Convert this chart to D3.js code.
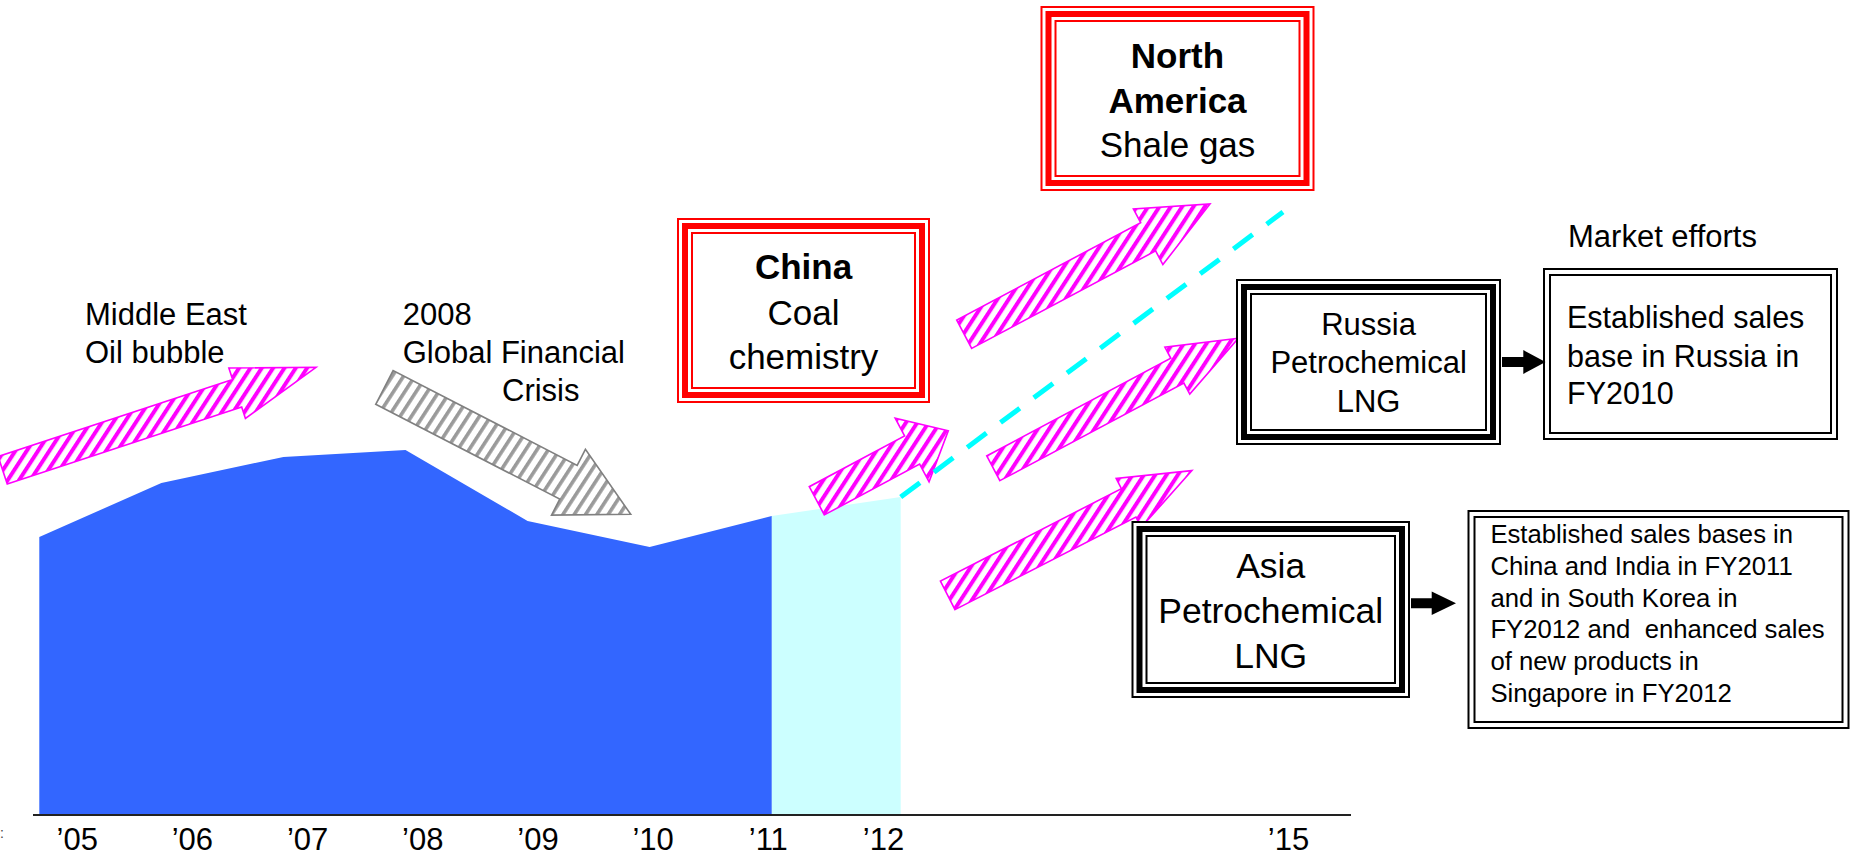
<!DOCTYPE html>
<html>
<head>
<meta charset="utf-8">
<script src="https://cdn.jsdelivr.net/npm/d3@7"></script>
<style>
  html, body { margin: 0; padding: 0; background: #ffffff; }
  svg { display: block; font-family: "Liberation Sans", Arial, sans-serif; }
  text { white-space: pre; }
</style>
</head>
<body>
<svg id="chart" width="1854" height="858"></svg>
<script>
// ---- data ----------------------------------------------------------------
// Sales index (arbitrary units) by fiscal year
const actualYears  = [2005, 2006, 2007, 2008, 2009, 2010, 2011];
const actualValues = [278, 332, 358, 365, 294, 268, 299];
const planYears    = [2011, 2012];
const planValues   = [299, 318];
const trendYears   = [2012, 2015];
const trendValues  = [318, 603];

const tickYears  = [2005, 2006, 2007, 2008, 2009, 2010, 2011, 2012, 2015];
const tickLabels = ["\u201905", "\u201906", "\u201907", "\u201908", "\u201909", "\u201910", "\u201911", "\u201912", "\u201915"];

// ---- layout ----------------------------------------------------------------
const baseY = 815;

const svg = d3.select("#chart");
const defs = svg.append("defs");

// position of area vertices (fiscal periods) and of year labels
const xArea = d3.scaleLinear()
  .domain([2005, 2011, 2012, 2015])
  .range([39.3, 771.7, 900.7, 1283]);
const xTick = d3.scaleLinear()
  .domain([2005, 2012, 2015])
  .range([76.7, 883, 1288]);
const y = d3.scaleLinear().domain([0, 400]).range([baseY, baseY - 400]);

// hatch fills for the block arrows
function hatch(id, color, period, stripe) {
  const p = defs.append("pattern")
    .attr("id", id)
    .attr("patternUnits", "userSpaceOnUse")
    .attr("width", period).attr("height", period)
    .attr("patternTransform", "rotate(33)");
  p.append("rect").attr("width", period).attr("height", period).attr("fill", "#ffffff");
  p.append("rect").attr("width", stripe).attr("height", period).attr("fill", color);
}
hatch("hatchMagenta", "#ff00ff", 9.5, 4);
hatch("hatchGray", "#9a9a9a", 9.5, 3.6);

// ---- sales area ----------------------------------------------------------------
const actual = actualYears.map((yr, i) => ({ year: yr, value: actualValues[i] }));
const plan   = planYears.map((yr, i) => ({ year: yr, value: planValues[i] }));
const trend  = trendYears.map((yr, i) => ({ year: yr, value: trendValues[i] }));

const area = d3.area()
  .x(d => xArea(d.year))
  .y0(y(0))
  .y1(d => y(d.value));

svg.append("path").datum(plan)
  .attr("d", area)
  .attr("fill", "#ccffff");

svg.append("path").datum(actual)
  .attr("d", area)
  .attr("fill", "#3366ff");

// baseline
svg.append("line")
  .attr("x1", 33).attr("x2", 1351)
  .attr("y1", baseY).attr("y2", baseY)
  .attr("stroke", "#222").attr("stroke-width", 2.2);

// year labels
const axis = d3.axisBottom(xTick)
  .tickValues(tickYears)
  .tickFormat((d, i) => tickLabels[i])
  .tickSize(0)
  .tickPadding(0);
const axisG = svg.append("g")
  .attr("transform", `translate(0,${baseY})`)
  .call(axis);
axisG.select(".domain").remove();
axisG.selectAll("text")
  .attr("font-family", "'Liberation Sans', Arial, sans-serif")
  .attr("font-size", 31)
  .attr("fill", "#000")
  .attr("dy", null)
  .attr("y", 35);

// stray mark at the left edge
svg.append("text").attr("x", 0).attr("y", 838)
  .attr("font-size", 14).attr("fill", "#444").text(":");

// ---- block arrows ----------------------------------------------------------------
function blockArrow(a) {
  const dx = a.tip[0] - a.tail[0], dy = a.tip[1] - a.tail[1];
  const len = Math.hypot(dx, dy);
  const ux = dx / len, uy = dy / len;
  const nx = -uy, ny = ux;
  const bx = a.tip[0] - ux * a.headLen, by = a.tip[1] - uy * a.headLen;
  const s = a.shaft / 2, h = a.head / 2;
  const pts = [
    [a.tail[0] + nx * s, a.tail[1] + ny * s],
    [bx + nx * s, by + ny * s],
    [bx + nx * h, by + ny * h],
    a.tip,
    [bx - nx * h, by - ny * h],
    [bx - nx * s, by - ny * s],
    [a.tail[0] - nx * s, a.tail[1] - ny * s]
  ];
  return d3.line()(pts) + "Z";
}

const arrowShapes = [
  { tail: [2.7, 470.3],   tip: [316, 367.3],    shaft: 29, head: 53, headLen: 83, kind: "up" },
  { tail: [384.4, 387.4], tip: [630.7, 514.3],  shaft: 38, head: 74, headLen: 70, kind: "down" },
  { tail: [816.8, 500.8], tip: [948.3, 430.7],  shaft: 32, head: 72, headLen: 41, kind: "up" },
  { tail: [964.2, 334.2], tip: [1210, 204],     shaft: 32, head: 63, headLen: 70, kind: "up" },
  { tail: [993.3, 468.3], tip: [1238.3, 338.3], shaft: 28, head: 53, headLen: 69, kind: "up" },
  { tail: [947.7, 595.4], tip: [1191.9, 470.6], shaft: 32, head: 55, headLen: 71, kind: "up" }
];

svg.append("g").selectAll("path")
  .data(arrowShapes)
  .join("path")
  .attr("d", blockArrow)
  .attr("fill", d => d.kind === "up" ? "url(#hatchMagenta)" : "url(#hatchGray)")
  .attr("stroke", d => d.kind === "up" ? "#ff00ff" : "#808080")
  .attr("stroke-width", 1.6)
  .attr("stroke-linejoin", "miter");

// growth trend beyond the plan year
svg.append("path").datum(trend)
  .attr("d", d3.line().x(d => xArea(d.year)).y(d => y(d.value)))
  .attr("fill", "none")
  .attr("stroke", "#00ffff")
  .attr("stroke-width", 5)
  .attr("stroke-dasharray", "24 17.5");

// ---- framed boxes ----------------------------------------------------------------
// triple frame: thin / thick / thin
function tripleBox(x, y0, w, h, color) {
  const g = svg.append("g");
  g.append("rect").attr("x", x).attr("y", y0).attr("width", w).attr("height", h).attr("fill", "#fff");
  [[1, 2], [8, 6], [15, 2]].forEach(([inset, sw]) => {
    g.append("rect")
      .attr("x", x + inset).attr("y", y0 + inset)
      .attr("width", w - 2 * inset).attr("height", h - 2 * inset)
      .attr("fill", "none").attr("stroke", color).attr("stroke-width", sw);
  });
  return g;
}
// double frame: thin / thin
function doubleBox(x, y0, w, h) {
  const g = svg.append("g");
  g.append("rect").attr("x", x).attr("y", y0).attr("width", w).attr("height", h).attr("fill", "#fff");
  [[1, 2], [7, 2]].forEach(([inset, sw]) => {
    g.append("rect")
      .attr("x", x + inset).attr("y", y0 + inset)
      .attr("width", w - 2 * inset).attr("height", h - 2 * inset)
      .attr("fill", "none").attr("stroke", "#000").attr("stroke-width", sw);
  });
  return g;
}

function lines(g, xPos, baselines, rows, size, anchor) {
  rows.forEach((r, i) => {
    g.append("text")
      .attr("x", xPos).attr("y", baselines[i])
      .attr("text-anchor", anchor)
      .attr("font-size", size)
      .attr("font-weight", r.bold ? "bold" : "normal")
      .attr("fill", "#000")
      .text(r.t);
  });
}

// China
const china = tripleBox(677, 218, 253, 185, "#ff0000");
lines(china, 803.5, [279.3, 325, 369.3],
  [{ t: "China", bold: true }, { t: "Coal" }, { t: "chemistry" }], 35, "middle");

// North America
const na = tripleBox(1040.5, 6, 274, 185, "#ff0000");
lines(na, 1177.5, [68.3, 112.7, 156.7],
  [{ t: "North", bold: true }, { t: "America", bold: true }, { t: "Shale gas" }], 35, "middle");

// Russia
const ru = tripleBox(1236, 279, 265, 166, "#000");
lines(ru, 1368.6, [335, 373.3, 412.3],
  [{ t: "Russia" }, { t: "Petrochemical" }, { t: "LNG" }], 31, "middle");

// Asia
const asia = tripleBox(1131.5, 521, 278.5, 177, "#000");
lines(asia, 1270.7, [578.3, 623.3, 668.3],
  [{ t: "Asia" }, { t: "Petrochemical" }, { t: "LNG" }], 35.5, "middle");

// market effort boxes
const ruFx = doubleBox(1543, 268, 295, 172);
lines(ruFx, 1567, [328.3, 366.7, 404],
  [{ t: "Established sales" }, { t: "base in Russia in" }, { t: "FY2010" }], 30.5, "start");

const asFx = doubleBox(1467.5, 510, 382, 219);
lines(asFx, 1490.4, [543.3, 575, 606.7, 638.3, 670, 701.7],
  [{ t: "Established sales bases in" }, { t: "China and India in FY2011" },
   { t: "and in South Korea in" }, { t: "FY2012 and  enhanced sales" },
   { t: "of new products in" }, { t: "Singapore in FY2012" }], 25.7, "start");

// connectors to the market effort boxes
function connector(x0, x1, xTip, cy, shaftH, headH) {
  const pts = [[x0, cy - shaftH / 2], [x1, cy - shaftH / 2], [x1, cy - headH / 2], [xTip, cy],
               [x1, cy + headH / 2], [x1, cy + shaftH / 2], [x0, cy + shaftH / 2]];
  svg.append("path").attr("d", d3.line()(pts) + "Z").attr("fill", "#000");
}
connector(1502, 1523.3, 1545.5, 362, 10, 24);
connector(1411, 1431.7, 1456, 603.3, 10, 23.5);

// ---- annotations ----------------------------------------------------------------
const notes = svg.append("g").attr("font-size", 31).attr("fill", "#000");
notes.append("text").attr("x", 85).attr("y", 325).text("Middle East");
notes.append("text").attr("x", 85).attr("y", 362.7).text("Oil bubble");
notes.append("text").attr("x", 402.7).attr("y", 325).text("2008");
notes.append("text").attr("x", 402.7).attr("y", 362.7).text("Global Financial");
notes.append("text").attr("x", 502).attr("y", 400.7).text("Crisis");
notes.append("text").attr("x", 1568).attr("y", 246.7).text("Market efforts");
</script>
</body>
</html>
